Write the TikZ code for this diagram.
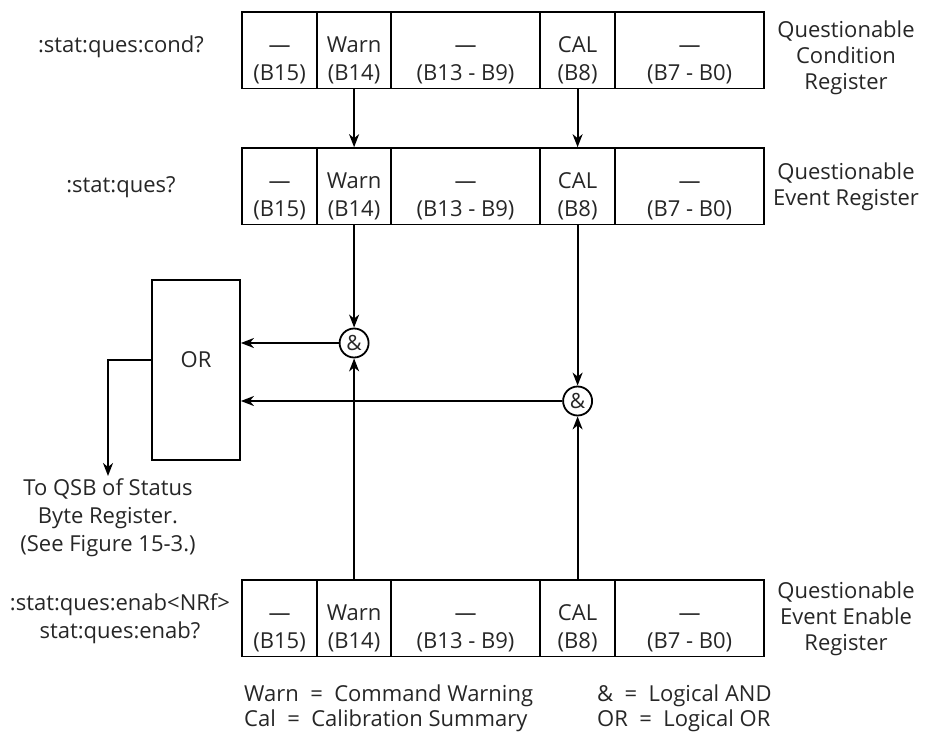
\documentclass[tikz,border=0pt]{standalone}
\usepackage{fontspec}
\setmainfont{Open Sans}
\usetikzlibrary{matrix,positioning,calc,arrows.meta}

\newcommand\bitcell[2]{\begin{tabular}{@{}c@{}}\rule{0pt}{40pt}#1\\#2\end{tabular}}

\begin{document}
\begin{tikzpicture}[
    x=1pt, y=-1pt,
    font=\fontsize{22}{28}\selectfont, text=black!85,
    reg/.style={matrix of nodes, anchor=north west, inner sep=0pt, column sep=-1.8pt,
        nodes={draw=black, line width=1.8pt, minimum height=74pt, inner sep=0pt, anchor=center},
        column 1/.style={nodes={minimum width=75pt}},
        column 2/.style={nodes={minimum width=74pt}},
        column 3/.style={nodes={minimum width=149pt}},
        column 4/.style={nodes={minimum width=75pt}},
        column 5/.style={nodes={minimum width=149pt}}},
    andgate/.style={circle, draw=black, line width=1.8pt, minimum size=29pt, inner sep=0pt, font=\fontsize{21}{22}\selectfont},
    orgate/.style={draw=black, line width=1.8pt, minimum width=88pt, minimum height=180pt},
    sig/.style={line width=1.8pt, -{Stealth[length=13pt,width=10pt,inset=4pt]}},
    lbl/.style={align=center, inner sep=2pt}
]
    \useasboundingbox (0,0) rectangle (925,731);

    % Condition register
    \matrix (R1) [reg] at (241,11) {
        \bitcell{—}{(B15)} & \bitcell{Warn}{(B14)} & \bitcell{—}{(B13 - B9)} & \bitcell{CAL}{(B8)} & \bitcell{—}{(B7 - B0)} \\
    };

    % Event register
    \matrix (R2) [reg] at (241,147) {
        \bitcell{—}{(B15)} & \bitcell{Warn}{(B14)} & \bitcell{—}{(B13 - B9)} & \bitcell{CAL}{(B8)} & \bitcell{—}{(B7 - B0)} \\
    };

    % Event enable register
    \matrix (R3) [reg] at (241,579) {
        \bitcell{—}{(B15)} & \bitcell{Warn}{(B14)} & \bitcell{—}{(B13 - B9)} & \bitcell{CAL}{(B8)} & \bitcell{—}{(B7 - B0)} \\
    };

    \node[lbl] (condcmd) at (121,47) {:stat:ques:cond?};
    \node[lbl] (evcmd) at (121,187) {:stat:ques?};
    \node[lbl] (enabcmd) at (120,619) {:stat:ques:enab<NRf>\\stat:ques:enab?};

    \node[lbl, font=\fontsize{22}{26}\selectfont] (condname) at (846,58) {Questionable\\Condition\\Register};
    \node[lbl, font=\fontsize{22}{26}\selectfont] (evname) at (846,0 |- R2.center) {Questionable\\Event Register};
    \node[lbl, font=\fontsize{22}{26}\selectfont] (enabname) at (846,0 |- R3.center) {Questionable\\Event Enable\\Register};

    % Logic
    \node[andgate] (and1) at (R2-1-2 |- 0,343) {\&};
    \node[andgate] (and2) at (R2-1-4 |- 0,401) {\&};
    \node[orgate] (orbox) at (196,370) {};
    \node (orlbl) at (196,360) {OR};

    \node[lbl, anchor=north] (qsb) at (108,476) {To QSB of Status\\Byte Register.\\(See Figure 15-3.)};

    % Mapping arrows
    \draw[sig] (R1-1-2.south) -- (R2-1-2.north);
    \draw[sig] (R1-1-4.south) -- (R2-1-4.north);
    \draw[sig] (R2-1-2.south) -- (and1.north);
    \draw[sig] (R2-1-4.south) -- (and2.north);
    \draw[sig] (R3-1-2.north) -- (and1.south);
    \draw[sig] (R3-1-4.north) -- (and2.south);
    \draw[sig] (and1.west) -- (and1 -| orbox.east);
    \draw[sig] (and2.west) -- (and2 -| orbox.east);
    \draw[sig] (orlbl -| orbox.west) -| (qsb.north);

    % Legend
    \node[anchor=north west, align=left, inner sep=0pt, font=\fontsize{22}{25}\selectfont] (legwarn) at (244,685)
        {Warn\ \ =\ \ Command Warning\\Cal\ \ =\ \ Calibration Summary};
    \node[anchor=north west, align=left, inner sep=0pt, font=\fontsize{22}{25}\selectfont] (legand) at (597,685)
        {\&\ \ =\ \ Logical AND\\OR\ \ =\ \ Logical OR};

\end{tikzpicture}
\end{document}
